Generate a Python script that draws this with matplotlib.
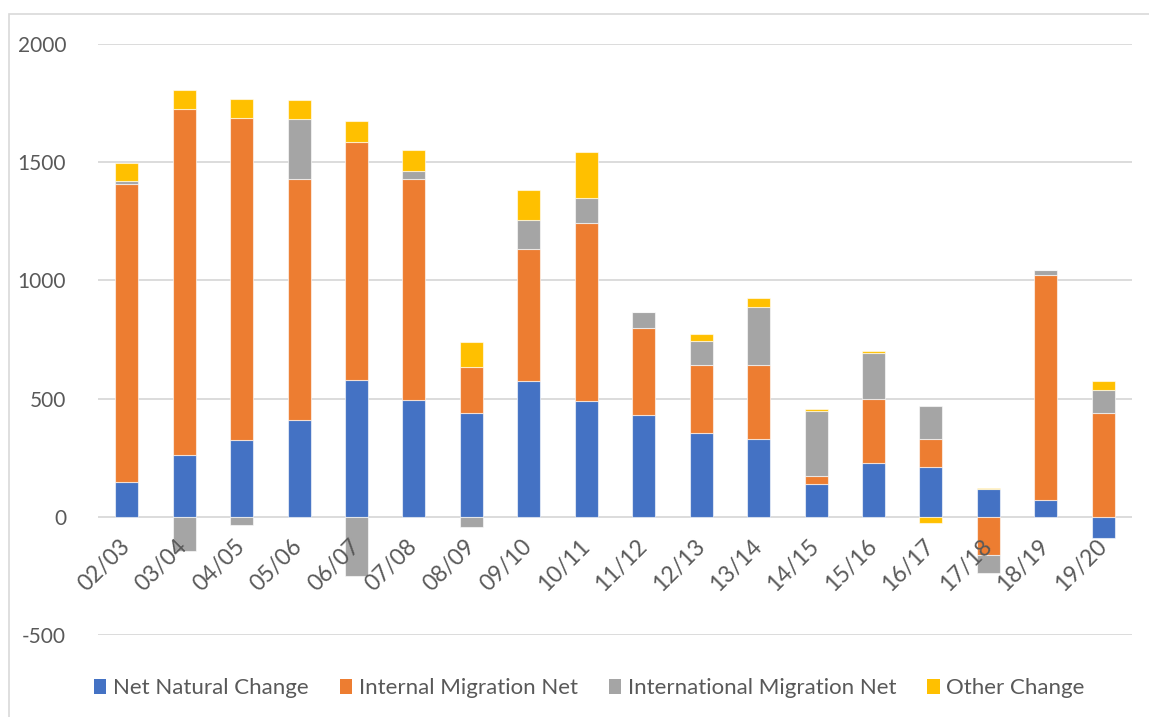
import matplotlib
matplotlib.use("Agg")
import matplotlib.pyplot as plt
from matplotlib.patches import Rectangle, Patch
import numpy as np

categories = ["02/03", "03/04", "04/05", "05/06", "06/07", "07/08", "08/09", "09/10", "10/11",
              "11/12", "12/13", "13/14", "14/15", "15/16", "16/17", "17/18", "18/19", "19/20"]
net_natural = [148, 263, 324, 408, 577, 492, 440, 573, 489, 430, 355, 328, 138, 227, 210, 118, 70, -89]
internal_mig = [1261, 1460, 1364, 1022, 1008, 937, 194, 560, 754, 369, 289, 313, 34, 271, 121, -162, 952, 437]
international_mig = [13, -145, -34, 253, -251, 32, -44, 121, 104, 66, 101, 248, 275, 197, 137, -76, 22, 101]
other_change = [73, 81, 79, 81, 89, 92, 104, 130, 198, 0, 30, 38, 7, 8, -25, 3, 0, 37]

series_names = ["Net Natural Change", "Internal Migration Net", "International Migration Net", "Other Change"]
series_values = [net_natural, internal_mig, international_mig, other_change]
colors = ["#4472C4", "#ED7D31", "#A5A5A5", "#FFC000"]

plt.rcParams['font.family'] = ['Lato', 'DejaVu Sans']
plt.rcParams['axes.unicode_minus'] = False
FS = 15
FS_X = 16.5
FS_LEG = 16
TXT = "#595959"

fig = plt.figure(figsize=(11.49, 7.17), dpi=100)
ax = fig.add_axes([98/1149, 1-635/717, (1132-98)/1149, (635-44)/717])

x = np.arange(len(categories))
pos_base = np.zeros(len(categories))
neg_base = np.zeros(len(categories))
for name, vals, c in zip(series_names, series_values, colors):
    v = np.array(vals, dtype=float)
    bottoms = np.where(v >= 0, pos_base, neg_base)
    ax.bar(x, v, bottom=bottoms, width=0.4, color=c, edgecolor=(1, 1, 1, 0.6),
           linewidth=0.8, zorder=3, label=name)
    pos_base = pos_base + np.where(v >= 0, v, 0)
    neg_base = neg_base + np.where(v < 0, v, 0)

ax.set_xlim(-0.5, len(categories) - 0.5)
ax.set_ylim(-500, 2000)
ax.set_yticks([-500, 0, 500, 1000, 1500, 2000])
ax.yaxis.grid(True, color="#D9D9D9", linewidth=1.3, zorder=0)
ax.set_axisbelow(True)
for s in ax.spines.values():
    s.set_visible(False)
ax.tick_params(axis='y', length=0, pad=23, labelsize=FS, labelcolor=TXT)
ax.set_xticks([])

for i, lab in enumerate(categories):
    ax.text(i + 0.0, -112, lab, rotation=45, rotation_mode='anchor', ha='right', va='center',
            fontsize=FS_X, color=TXT, zorder=4)

handles = [Patch(facecolor=c, edgecolor='none') for c in colors]
fig.legend(handles, series_names, loc='center', bbox_to_anchor=(0.513, 1-688/717), ncol=4,
           frameon=False, fontsize=FS_LEG, labelcolor=TXT, handlelength=0.55, handleheight=0.65,
           handletextpad=0.3, columnspacing=1.4)

fig.patches.append(Rectangle((9/1149, -0.05), 1.2, 1-14/717+0.05, transform=fig.transFigure,
                             fill=False, edgecolor="#D9D9D9", linewidth=1.2, clip_on=False))

fig.savefig("out.png", dpi=100)
